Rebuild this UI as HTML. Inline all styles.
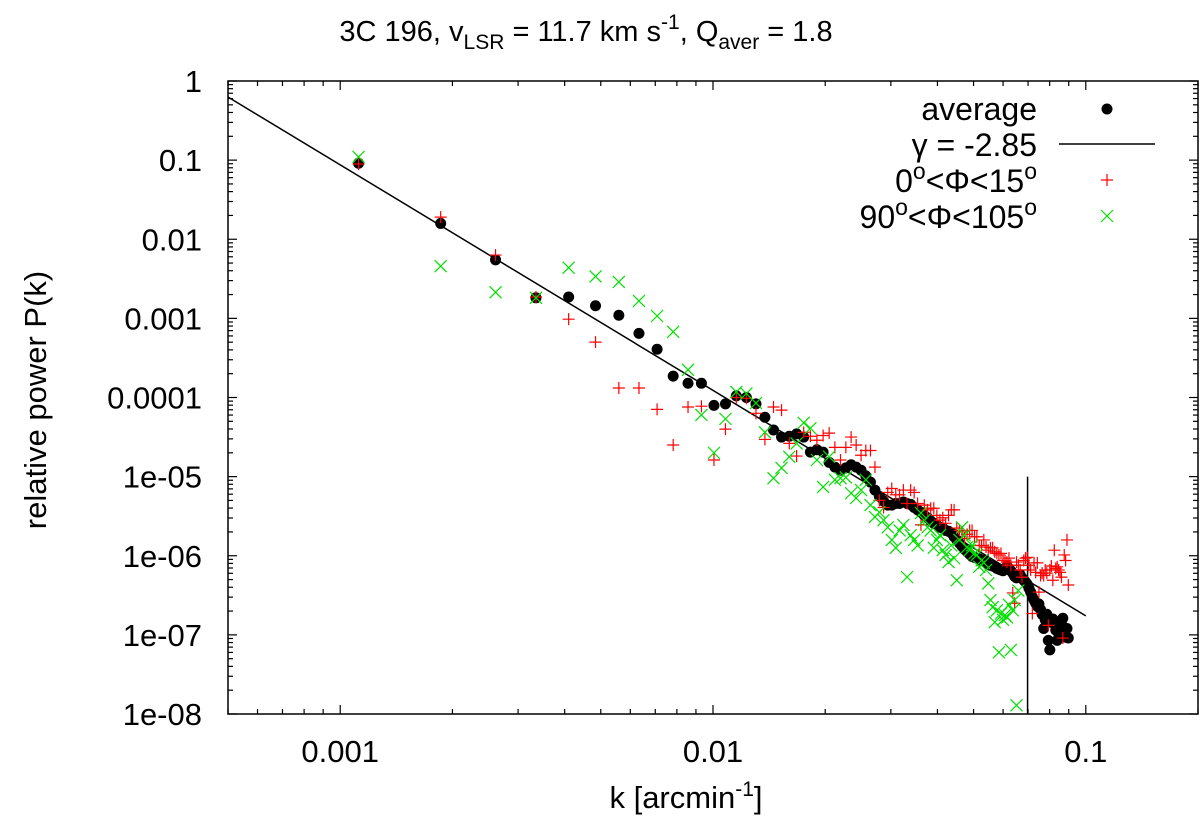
<!DOCTYPE html>
<html><head><meta charset="utf-8"><title>3C 196 power spectrum</title>
<style>
html,body{margin:0;padding:0;background:#fff;}
svg{display:block;font-family:"Liberation Sans",Arial,sans-serif;}
</style></head>
<body>
<svg id="chart" width="1200" height="826" viewBox="0 0 1200 826" xmlns="http://www.w3.org/2000/svg">
<rect width="1200" height="826" fill="#fff"/>
<text x="586" y="41" font-size="29" text-anchor="middle">3C 196, v<tspan font-size="21" dy="8">LSR</tspan><tspan dy="-8"> = 11.7 km s</tspan><tspan font-size="21" dy="-12">-1</tspan><tspan dy="12">, Q</tspan><tspan font-size="21" dy="8">aver</tspan><tspan dy="-8"> = 1.8</tspan></text>
<text transform="translate(46,400) rotate(-90)" font-size="31" text-anchor="middle">relative power P(k)</text>
<text x="686" y="808" font-size="31" text-anchor="middle">k [arcmin<tspan font-size="21" dy="-12">-1</tspan><tspan dy="12">]</tspan></text>
<g id="axes"></g>
<g id="marks"></g>
<g id="legend">
  <text x="1037" y="120" font-size="32" text-anchor="end">average</text>
  <circle cx="1107" cy="109" r="5.5" fill="#000"/>
  <text x="1037" y="156" font-size="32" text-anchor="end">γ = -2.85</text>
  <line x1="1059" y1="144" x2="1155" y2="144" stroke="#000" stroke-width="1.5"/>
  <text x="1037" y="192" font-size="32" text-anchor="end">0<tspan font-size="23" dy="-13">o</tspan><tspan dy="13">&lt;Φ&lt;15</tspan><tspan font-size="23" dy="-13">o</tspan></text>
  <path d="M1101 180h12M1107 174v12" stroke="#ff0000" stroke-width="1.2"/>
  <text x="1037" y="228" font-size="32" text-anchor="end">90<tspan font-size="23" dy="-13">o</tspan><tspan dy="13">&lt;Φ&lt;105</tspan><tspan font-size="23" dy="-13">o</tspan></text>
  <path d="M1101 210l12 12M1113 210l-12 12" stroke="#00e000" stroke-width="1.2"/>
</g>
</svg>
<script>
const kValues = [0.00112,0.00186,0.00261,0.00335,0.0041,0.00484,0.00559,0.00633,0.00708,0.00782,0.00857,0.00931,0.01006,0.0108,0.01155,0.01229,0.01304,0.01378,0.01453,0.01527,0.01602,0.01676,0.01751,0.01825,0.019,0.01974,0.02049,0.02123,0.02198,0.02272,0.02347,0.02421,0.02496,0.0257,0.02645,0.02719,0.02794,0.02868,0.02943,0.03017,0.03092,0.03166,0.03241,0.03315,0.0339,0.03464,0.03539,0.03613,0.03688,0.03762,0.03837,0.03911,0.03986,0.0406,0.04135,0.04209,0.04284,0.04358,0.04433,0.04507,0.04582,0.04656,0.04731,0.04805,0.0488,0.04954,0.05029,0.05103,0.05178,0.05252,0.05327,0.05401,0.05476,0.0555,0.05625,0.05699,0.05774,0.05848,0.05923,0.05997,0.06072,0.06146,0.06221,0.06295,0.0637,0.06444,0.06519,0.06593,0.06668,0.06742,0.06817,0.06891,0.06966,0.0704,0.07115,0.07189,0.07264,0.07338,0.07413,0.07487,0.07562,0.07636,0.07711,0.07785,0.0786,0.07934,0.08009,0.08083,0.08158,0.08232,0.08307,0.08381,0.08456,0.0853,0.08605,0.08679,0.08754,0.08828,0.08903,0.08977];
// log10 of relative power
const log10Average = [-1.04,-1.80,-2.26,-2.74,-2.73,-2.84,-2.96,-3.19,-3.39,-3.73,-3.82,-3.82,-4.10,-4.08,-3.98,-4.00,-4.08,-4.25,-4.41,-4.50,-4.49,-4.46,-4.50,-4.69,-4.66,-4.69,-4.82,-4.88,-4.92,-4.89,-4.85,-4.88,-4.92,-4.99,-5.07,-5.17,-5.25,-5.31,-5.36,-5.36,-5.34,-5.34,-5.32,-5.34,-5.35,-5.39,-5.42,-5.45,-5.49,-5.52,-5.56,-5.59,-5.61,-5.64,-5.65,-5.68,-5.69,-5.71,-5.76,-5.80,-5.84,-5.88,-5.92,-5.95,-5.98,-6.01,-6.02,-6.03,-6.04,-6.06,-6.06,-6.08,-6.11,-6.12,-6.13,-6.14,-6.16,-6.17,-6.18,-6.19,-6.16,-6.13,-6.16,-6.19,-6.22,-6.26,-6.28,-6.27,-6.24,-6.28,-6.31,-6.33,-6.36,-6.41,-6.46,-6.52,-6.56,-6.60,-6.64,-6.61,-6.68,-6.74,-6.92,-6.81,-6.74,-7.07,-7.19,-6.84,-6.80,-6.86,-6.94,-7.07,-6.98,-7.02,-6.83,-6.79,-6.94,-7.03,-6.92,-7.04];
const log10Phi0to15 = [-1.05,-1.72,-2.20,-2.73,-3.01,-3.30,-3.88,-3.88,-4.15,-4.60,-4.12,-4.11,-4.79,-4.40,-4.00,-4.01,-4.20,-4.53,-4.12,-4.16,-4.58,-4.74,-4.44,-4.49,-4.54,-4.48,-4.45,-4.63,-4.79,-4.63,-4.50,-4.60,-4.73,-4.67,-4.67,-4.88,-5.30,-5.39,-5.20,-5.15,-5.23,-5.23,-5.17,-5.34,-5.17,-5.20,-5.34,-5.61,-5.36,-5.42,-5.40,-5.40,-5.49,-5.55,-5.52,-5.59,-5.49,-5.42,-5.42,-5.65,-5.68,-5.70,-5.78,-5.73,-5.68,-5.68,-5.76,-5.76,-5.87,-5.87,-5.80,-5.89,-5.93,-5.90,-5.90,-5.95,-5.97,-5.99,-5.97,-6.06,-6.06,-6.08,-6.03,-6.12,-6.47,-6.60,-6.08,-6.12,-6.18,-6.27,-6.06,-6.03,-6.02,-6.12,-6.18,-6.73,-6.09,-6.21,-6.09,-6.46,-6.25,-6.22,-6.25,-6.18,-6.22,-6.88,-6.18,-6.13,-6.31,-5.93,-6.16,-6.14,-6.18,-6.21,-6.27,-7.04,-5.99,-6.06,-5.80,-6.37];
const log10Phi90to105 = [-0.96,-2.34,-2.67,-2.74,-2.36,-2.47,-2.54,-2.78,-2.97,-3.17,-3.65,-4.22,-4.70,-4.27,-3.93,-3.95,-4.07,-4.44,-5.02,-4.89,-4.75,-4.58,-4.32,-4.39,-4.79,-5.13,-4.75,-5.04,-5.02,-5.01,-5.21,-5.27,-5.17,-5.04,-5.36,-5.51,-5.45,-5.55,-5.64,-5.80,-5.90,-5.68,-5.61,-6.27,-5.74,-5.80,-5.87,-5.46,-5.55,-5.64,-5.68,-5.90,-5.80,-5.74,-5.93,-5.99,-6.08,-5.87,-6.03,-6.31,-5.80,-5.64,-5.74,-5.89,-5.93,-5.87,-5.97,-5.99,-6.14,-6.06,-6.09,-6.18,-6.35,-6.56,-6.65,-6.84,-6.69,-7.22,-6.73,-6.81,-6.75,-6.78,-6.62,-7.19,-6.69,-6.56,-7.89,-6.44];
const fitGamma = -2.85;
const fitLog10Amp = -9.61;
const fitRange = [0.0005, 0.1];
const cutoffK = 0.0698;
const cutoffPRange = [1e-8, 1e-5];
const xTickValues = [0.001, 0.01, 0.1];
const xTickLabels = ["0.001", "0.01", "0.1"];
const yTickExps = [0,-1,-2,-3,-4,-5,-6,-7,-8];
const yTickLabels = ["1","0.1","0.01","0.001","0.0001","1e-05","1e-06","1e-07","1e-08"];

const NS = "http://www.w3.org/2000/svg";
const L = 228, R = 1198, T = 81, B = 714;
const xMin = Math.log10(0.0005), xMax = Math.log10(0.2);
const yMin = -8, yMax = 0;
function xs(k){ return L + (Math.log10(k) - xMin) / (xMax - xMin) * (R - L); }
function ysLog(lp){ return B - (lp - yMin) / (yMax - yMin) * (B - T); }
function mk(tag, attrs, parent){ const e = document.createElementNS(NS, tag); for (const a in attrs) e.setAttribute(a, attrs[a]); parent.appendChild(e); return e; }

const axes = document.getElementById("axes");
const marks = document.getElementById("marks");
const frame = mk("rect", {x:L, y:T, width:R-L, height:B-T, fill:"none", stroke:"#000", "stroke-width":1.5}, axes);



for (let e = -8; e <= 0; e++) {
  for (let m = 1; m <= 9; m++) {
    if (e === 0 && m > 1) break;
    const y = ysLog(e + Math.log10(m));
    const len = m === 1 ? 9 : 5;
    const t1 = mk("line", {x1:L, x2:L+len, y1:y, y2:y, stroke:"#000", "stroke-width":1.2}, axes);
    
    
    const t2 = mk("line", {x1:R, x2:R-len, y1:y, y2:y, stroke:"#000", "stroke-width":1.2}, axes);
    
    
  }
}
yTickExps.forEach((e, i) => {
  const t = mk("text", {x:202, y:ysLog(e)+11, "font-size":31, "text-anchor":"end"}, axes);
  t.textContent = yTickLabels[i];
  
  
});
for (let e = -4; e <= -1; e++) {
  for (let m = 1; m <= 9; m++) {
    const k = m * Math.pow(10, e);
    if (k < 0.0005 - 1e-12 || k > 0.2 + 1e-12) continue;
    const x = xs(k);
    const len = m === 1 ? 9 : 5;
    const t1 = mk("line", {x1:x, x2:x, y1:B, y2:B-len, stroke:"#000", "stroke-width":1.2}, axes);
    
    
    const t2 = mk("line", {x1:x, x2:x, y1:T, y2:T+len, stroke:"#000", "stroke-width":1.2}, axes);
    
    
  }
}
xTickValues.forEach((v, i) => {
  const t = mk("text", {x:xs(v), y:762, "font-size":31, "text-anchor":"middle"}, axes);
  t.textContent = xTickLabels[i];
  
  
});

log10Average.forEach((lp, i) => {
  const c = mk("circle", {cx:xs(kValues[i]), cy:ysLog(lp), r:5.5, fill:"#000"}, marks);
  
  
});
const fx1 = xs(fitRange[0]), fx2 = xs(fitRange[1]);
const fy1 = ysLog(fitLog10Amp + fitGamma * Math.log10(fitRange[0]));
const fy2 = ysLog(fitLog10Amp + fitGamma * Math.log10(fitRange[1]));
const fit = mk("line", {x1:fx1, y1:fy1, x2:fx2, y2:fy2, stroke:"#000", "stroke-width":1.5}, marks);


const cut = mk("line", {x1:xs(cutoffK), x2:xs(cutoffK), y1:ysLog(Math.log10(cutoffPRange[0])), y2:ysLog(Math.log10(cutoffPRange[1])), stroke:"#000", "stroke-width":1.5}, marks);


log10Phi0to15.forEach((lp, i) => {
  const x = xs(kValues[i]), y = ysLog(lp);
  const p = mk("path", {d:`M${x-6} ${y}h12M${x} ${y-6}v12`, stroke:"#ff0000", "stroke-width":1.2, fill:"none"}, marks);
  
  
});
log10Phi90to105.forEach((lp, i) => {
  const x = xs(kValues[i]), y = ysLog(lp);
  const p = mk("path", {d:`M${x-6} ${y-6}l12 12M${x+6} ${y-6}l-12 12`, stroke:"#00e000", "stroke-width":1.2, fill:"none"}, marks);
  
  
});
</script>
</body></html>
